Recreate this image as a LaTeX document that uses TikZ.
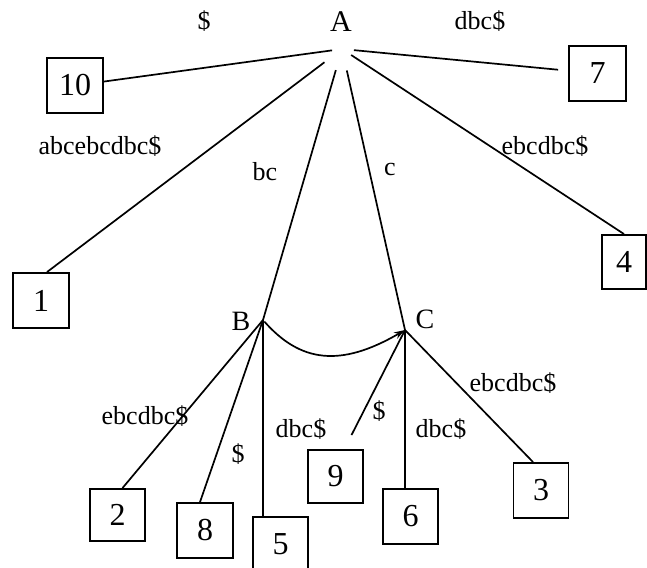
\documentclass[tikz,border=0pt]{standalone}
\usepackage{fontspec}
\setmainfont{Liberation Serif}
\usetikzlibrary{arrows.meta,calc}
\begin{document}
\begin{tikzpicture}[x=1pt,y=-1pt,
  leaf/.style={draw,line width=1.9pt,minimum width=55pt,minimum height=54pt,inner sep=0pt,font=\fontsize{32}{32}\selectfont},
  lbl/.style={inner sep=0pt,font=\fontsize{26}{26}\selectfont},
  vlbl/.style={inner sep=0pt,font=\fontsize{30}{30}\selectfont},
  edge/.style={line width=1.7pt}]
\useasboundingbox (0,0) rectangle (647,567);
\clip (0,0) rectangle (647,567);
\fill[white] (0,0) rectangle (647,567);

% internal points
\coordinate (root) at (342,49);
\coordinate (B) at (263,320);
\coordinate (C) at (405,330);

% leaves
\node[leaf,minimum width=56pt,minimum height=55pt] (n10) at (75,85.5) {10};
\node[leaf,minimum width=57pt,minimum height=55pt] (n7) at (597.5,73.5) {7};
\node[leaf,minimum width=56pt,minimum height=55pt] (n1) at (41,300.5) {1};
\node[leaf,minimum width=44pt] (n4) at (624,262) {4};
\node[leaf,minimum height=52pt] (n2) at (117.5,515) {2};
\node[leaf,minimum width=56pt,minimum height=55pt] (n8) at (205,530.5) {8};
\node[leaf] (n5) at (280.5,544) {5};
\node[leaf,minimum height=53pt] (n9) at (335.5,476.5) {9};
\node[leaf,minimum height=55pt] (n6) at (410.5,516.5) {6};
\node[leaf,minimum height=55pt] (n3) at (541,490.5) {3};

% vertex labels
\node[vlbl] (lA) at (341,22) {A};
\node[vlbl,font=\fontsize{28}{28}\selectfont] (lB) at (241,321) {B};
\node[vlbl,font=\fontsize{28}{28}\selectfont] (lC) at (425,319) {C};

% edges from the root
\draw[edge,shorten <=10pt] (root) -- (n10);
\draw[edge,shorten <=12pt,shorten >=10pt] (root) -- (n7);
\draw[edge,shorten <=22pt] (root) -- ($(n1.north)+(6,0)$);
\draw[edge,shorten <=22pt] (root) -- (B);
\draw[edge,shorten <=22pt] (root) -- (C);
\draw[edge,shorten <=11pt] (root) -- (n4.north);

% edges from B
\draw[edge] (B) -- ($(n2.north)+(5,0)$);
\draw[edge] (B) -- ($(n8.north)+(-5,0)$);
\draw[edge] (B) -- (B |- n5.north);

% edges from C
\coordinate (t9) at ($(n9.north)+(16,-14)$);
\draw[edge] (t9) -- (C);
\draw[edge] (C) -- (C |- n6.north);
\draw[edge] (C) -- ($(n3.north)+(-8,0)$);

% suffix link
\draw[edge,-{Stealth[length=11pt,width=7pt]},shorten <=2pt] (B) .. controls (300,362) and (340,368) .. (C);

% edge labels
\node[lbl] (e10) at (204,21) {\$};
\node[lbl] (e7) at (480,21) {dbc\$};
\node[lbl] (e1) at (100,146) {abcebcdbc\$};
\node[lbl] (eB) at (265,172) {bc};
\node[lbl] (eC) at (390,170) {c};
\node[lbl] (e4) at (545,146) {ebcdbc\$};
\node[lbl] (e2) at (145,416) {ebcdbc\$};
\node[lbl] (e8) at (238,454) {\$};
\node[lbl] (e5) at (301,429) {dbc\$};
\node[lbl] (e9) at (379,411) {\$};
\node[lbl] (e6) at (441,429) {dbc\$};
\node[lbl] (e3) at (513,383) {ebcdbc\$};
\end{tikzpicture}
\end{document}
